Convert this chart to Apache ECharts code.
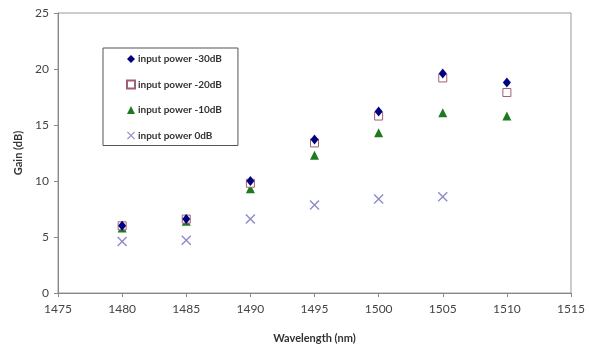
<!DOCTYPE html>
<html>
<head>
<meta charset="utf-8">
<script src="https://cdn.jsdelivr.net/npm/echarts@6/dist/echarts.min.js"></script>
<style>
  html, body { margin: 0; padding: 0; background: #fff; }
  #chart { width: 589px; height: 351px; }
</style>
</head>
<body>
<div id="chart"></div>
<script>
// Gain spectra measured at several input power levels
const wavelengths = [1480, 1485, 1490, 1495, 1500, 1505, 1510];
const gainMinus30 = [6.0, 6.6, 10.0, 13.7, 16.2, 19.6, 18.8];
const gainMinus20 = [6.0, 6.6, 9.8, 13.4, 15.8, 19.2, 17.9];
const gainMinus10 = [5.8, 6.4, 9.3, 12.3, 14.3, 16.1, 15.8];
const gain0 = [4.6, 4.7, 6.6, 7.85, 8.4, 8.6];

const seriesNames = ['input power -30dB', 'input power -20dB', 'input power -10dB', 'input power 0dB'];

const xTicks = { min: 1475, max: 1515, step: 5 };
const yTicks = { min: 0, max: 25, step: 5 };

const pairs = (ys) => ys.map((y, i) => [wavelengths[i], y]);

const crossPath = 'path://M0,1 L1,0 L5,4 L9,0 L10,1 L6,5 L10,9 L9,10 L5,6 L1,10 L0,9 L4,5 Z';

const labelFont = 'Lato, "Open Sans", sans-serif';

const chart = echarts.init(document.getElementById('chart'), null, { renderer: 'canvas' });
chart.setOption({
  animation: false,
  backgroundColor: '#ffffff',
  grid: {
    left: 58, right: 18, top: 13, bottom: 58,
    show: true, borderColor: '#9a9a9a', borderWidth: 1
  },
  legend: {
    orient: 'vertical',
    left: 103, top: 48,
    padding: [6, 16, 5, 23],
    itemGap: 15.5,
    itemWidth: 8, itemHeight: 8,
    borderColor: '#555', borderWidth: 1,
    backgroundColor: '#fff',
    textStyle: { fontFamily: labelFont, fontWeight: 'bold', fontSize: 10, color: '#333', padding: [0, 0, 0, -2] },
    data: seriesNames
  },
  xAxis: {
    type: 'value',
    min: xTicks.min, max: xTicks.max, interval: xTicks.step,
    name: 'Wavelength (nm)',
    nameLocation: 'middle', nameGap: 40,
    nameTextStyle: { fontFamily: labelFont, fontWeight: 'bold', fontSize: 11, color: '#333' },
    axisLine: { show: true, lineStyle: { color: '#888', width: 1 } },
    axisTick: { show: true, inside: false, length: 4, lineStyle: { color: '#888' } },
    axisLabel: { fontFamily: labelFont, fontSize: 12, color: '#444', margin: 10, formatter: (v) => String(v) },
    splitLine: { show: false }
  },
  yAxis: {
    type: 'value',
    min: yTicks.min, max: yTicks.max, interval: yTicks.step,
    name: 'Gain (dB)',
    nameLocation: 'middle', nameGap: 34, nameRotate: 90,
    nameTextStyle: { fontFamily: labelFont, fontWeight: 'bold', fontSize: 11, color: '#333' },
    axisLine: { show: true, lineStyle: { color: '#888', width: 1 } },
    axisTick: { show: true, inside: false, length: 4, lineStyle: { color: '#888' } },
    axisLabel: { fontFamily: labelFont, fontSize: 12, color: '#444', margin: 9 },
    splitLine: { show: false }
  },
  series: [
    {
      name: seriesNames[0], type: 'scatter', data: pairs(gainMinus30),
      symbol: 'diamond', symbolSize: [8, 10], z: 5,
      itemStyle: { color: '#000080', opacity: 1 }
    },
    {
      name: seriesNames[1], type: 'scatter', data: pairs(gainMinus20),
      symbol: 'rect', symbolSize: 8, z: 4,
      itemStyle: { color: '#ffffff', borderColor: '#a06070', borderWidth: 1, opacity: 1 }
    },
    {
      name: seriesNames[2], type: 'scatter', data: pairs(gainMinus10),
      symbol: 'triangle', symbolSize: [9, 9], z: 3,
      itemStyle: { color: '#1e7a1e', opacity: 1 }
    },
    {
      name: seriesNames[3], type: 'scatter', data: pairs(gain0),
      symbol: crossPath, symbolSize: 10, z: 2,
      itemStyle: { color: '#8c8cc8', opacity: 1 }
    }
  ]
});
</script>
</body>
</html>
